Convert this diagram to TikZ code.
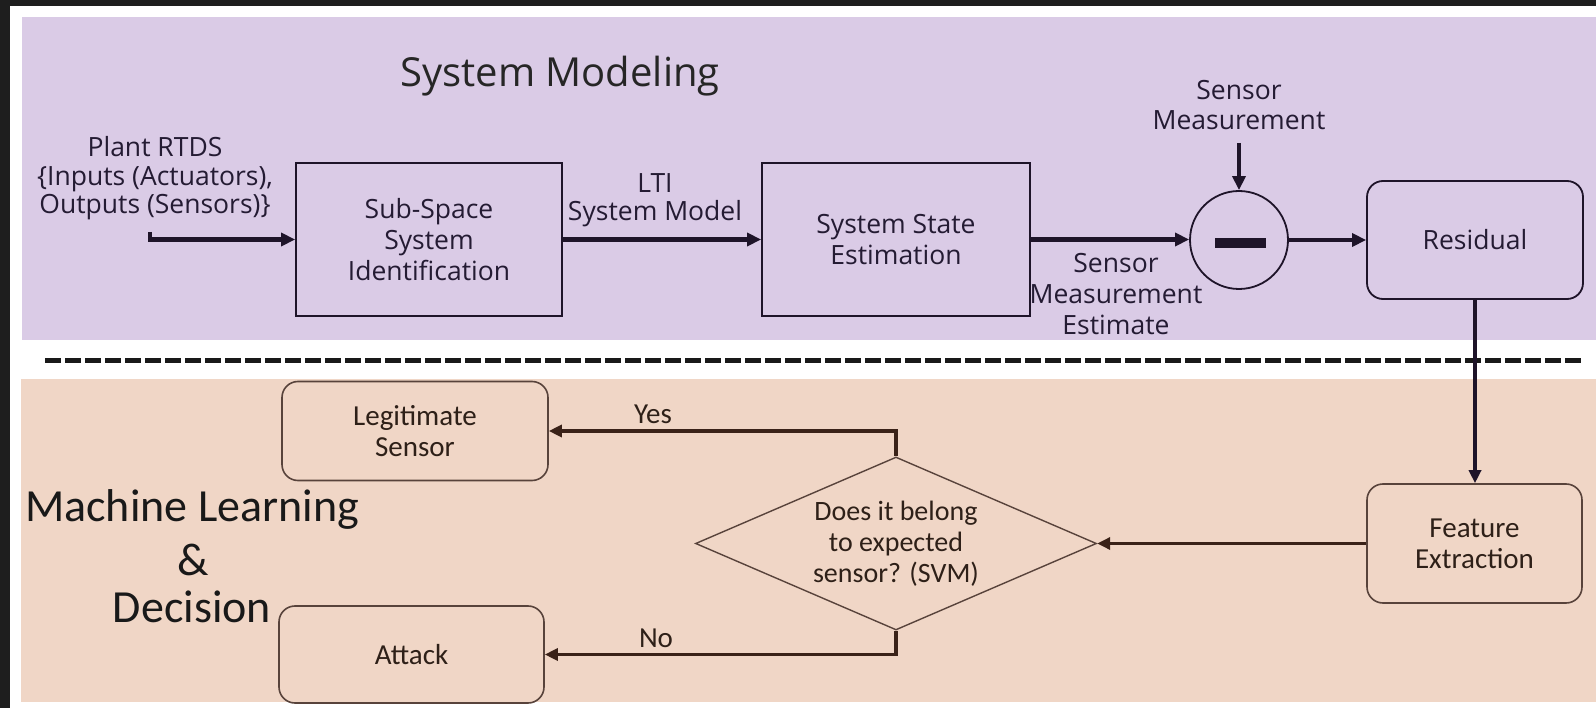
\documentclass[tikz,border=0pt]{standalone}
\usepackage{fontspec}
\setmainfont{Open Sans}
\newfontfamily\calfont{Carlito}
\usetikzlibrary{arrows.meta,shapes.geometric}
\definecolor{frame}{HTML}{1E1E1E}
\definecolor{lav}{HTML}{DACBE6}
\definecolor{peach}{HTML}{F0D6C6}
\definecolor{navy}{HTML}{1E1429}
\definecolor{brownln}{HTML}{3A2218}
\definecolor{txtup}{HTML}{241B33}
\definecolor{txtlo}{HTML}{2E2018}
\newcommand\upf{\fontsize{26.5}{31}\selectfont}
\newcommand\lof{\calfont\fontsize{29}{31}\selectfont}
\begin{document}
\begin{tikzpicture}[x=1pt,y=-1pt,
  upbox/.style={draw=navy, line width=1.8pt, minimum height=153pt, inner sep=0pt, align=center, font=\upf, text=txtup},
  lobox/.style={draw=brownln!85, line width=1.6pt, rounded corners=16pt, inner sep=0pt, align=center, font=\lof, text=txtlo},
  uplabel/.style={align=center, text=txtup, inner sep=0pt},
  lolabel/.style={align=center, text=txtlo, inner sep=0pt, font=\lof},
  arrowup/.style={draw=navy, line width=4.3pt, -{Triangle[length=14pt,width=13pt]}},
  arrowlo/.style={draw=brownln, line width=3.8pt, -{Triangle[length=13pt,width=12pt]}}]
\useasboundingbox (0,0) rectangle (1596,708);
\fill[frame] (0,0) rectangle (1596,708);
\fill[white] (10,6) rectangle (1596,708);
\fill[lav] (22,17) rectangle (1596,340);
\fill[peach] (21,379) rectangle (1596,702);
% dashed separator
\draw[black!90, line width=5pt, dash pattern=on 16pt off 4pt] (45,361) -- (1581,361);

% titles
\node[uplabel, font=\fontsize{40}{44}\selectfont, text=black!85] (tsm) at (560,76) {System Modeling};
\node[align=center, inner sep=0pt, text=black!90, font=\calfont\fontsize{46}{50}\selectfont] (tml) at (192,509) {Machine Learning};
\node[align=center, inner sep=0pt, text=black!90, font=\calfont\fontsize{46}{50}\selectfont] (tamp) at (193,560) {\&};
\node[align=center, inner sep=0pt, text=black!90, font=\calfont\fontsize{46}{50}\selectfont] (tdec) at (192,607) {Decision};

% upper blocks
\node[upbox, minimum width=266pt] (sub) at (429,239.5) {Sub-Space\\System\\Identification};
\node[upbox, minimum width=268pt] (sse) at (896,239.5) {System State\\Estimation};
\node[circle, draw=navy, line width=1.8pt, minimum size=98pt, inner sep=0pt] (sum) at (1239,240) {};
\node[fill=navy, minimum width=51pt, minimum height=10pt, inner sep=0pt] (bar) at (1240.5,243) {};
\node[upbox, rounded corners=16pt, minimum width=216pt, minimum height=118pt] (res) at (1475,240) {Residual};

% upper labels
\node[uplabel, font=\fontsize{26.5}{28.5}\selectfont] (plant) at (155,178.5) {Plant RTDS\\\{Inputs (Actuators),\\Outputs (Sensors)\}};
\node[uplabel, font=\fontsize{26.5}{28}\selectfont] (lti) at (655,200) {LTI\\System Model};
\node[uplabel, font=\fontsize{26.5}{31}\selectfont] (sme) at (1116,294) {Sensor\\Measurement\\Estimate};
\node[uplabel, font=\fontsize{26.5}{30}\selectfont] (smt) at (1239,105) {Sensor\\Measurement};

% lower blocks
\node[lobox, minimum width=266pt, minimum height=99pt] (leg) at (415,431) {Legitimate\\Sensor};
\node[lobox, minimum width=265pt, minimum height=97pt] (att) at (411.5,654.5) {Attack};
\node[lobox, minimum width=215pt, minimum height=119pt] (feat) at (1474.5,543.5) {Feature\\Extraction};
\node[diamond, draw=brownln!85, line width=1.4pt, minimum width=401pt, minimum height=173pt, inner sep=0pt] (dia) at (896,543.5) {};
\node[lolabel, font=\calfont\fontsize{28}{31}\selectfont] (diat) at (dia.center) {Does it belong\\to expected\\sensor? (SVM)};
\node[lolabel] (yes) at (653,414) {Yes};
\node[lolabel] (no) at (656,638) {No};

% connectors
\coordinate (in0) at (150,232);
\draw[arrowup] (in0) |- (sub.west);
\draw[arrowup] (sub.east) -- (sse.west);
\draw[arrowup] (sse.east) -- (sse.east -| sum.west);
\coordinate (smtop) at (1239,143);
\draw[arrowup] (smtop) -- (sum.north);
\draw[arrowup] (sum.east) -- (res.west);
\draw[arrowlo, draw=navy] (res.south) -- (res.south |- feat.north);
\draw[arrowlo] (feat.west) -- (dia.east);
\draw[arrowlo] (dia.north) |- (leg.east);
\draw[arrowlo] (dia.south) |- (att.east);
\end{tikzpicture}
\end{document}
